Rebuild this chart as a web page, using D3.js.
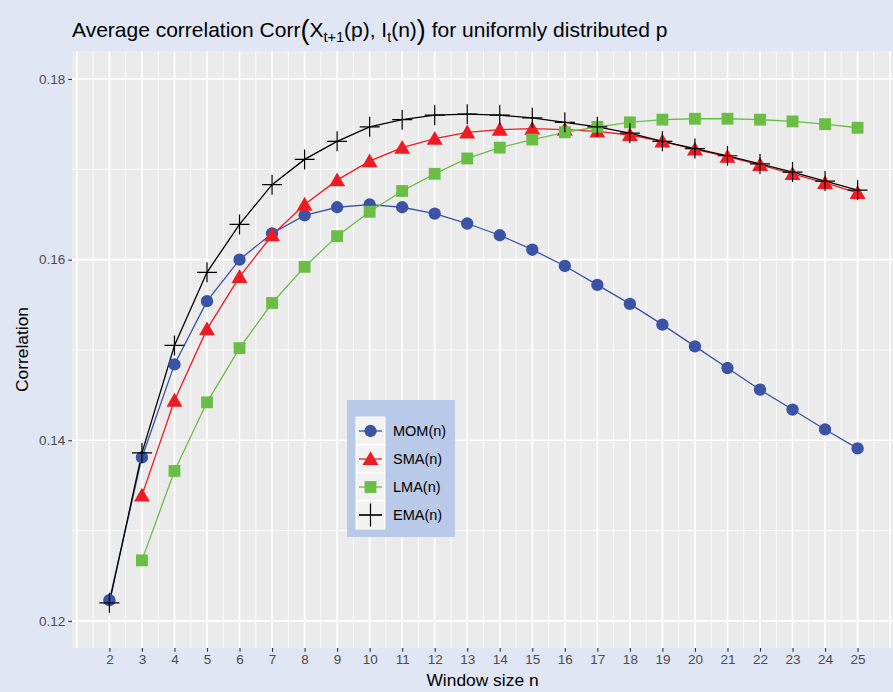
<!DOCTYPE html>
<html>
<head>
<meta charset="utf-8">
<script src="https://d3js.org/d3.v7.min.js"></script>
<style>
  body { margin: 0; background: #E0E6F3; }
  text { font-family: "Liberation Sans", Arial, Helvetica, sans-serif; }
</style>
</head>
<body>
<svg></svg>
<script>
// ====== data ====== //
const windowSizes = d3.range(2, 26);          // n = 2..25

const momValues = [0.1223, 0.1381, 0.1484, 0.1554, 0.1600, 0.1629, 0.1649, 0.1658,
  0.1661, 0.1658, 0.1651, 0.1640, 0.1627, 0.1611, 0.1593, 0.1572, 0.1551, 0.1528,
  0.1504, 0.1480, 0.1456, 0.1434, 0.1412, 0.1391];

// SMA and LMA start at n = 3
const smaValues = [null, 0.1339, 0.1444, 0.1523, 0.1581, 0.1627, 0.1661, 0.1688,
  0.1709, 0.1724, 0.1734, 0.1741, 0.1744, 0.1745, 0.1744, 0.1742, 0.1738, 0.1731,
  0.1722, 0.1714, 0.1705, 0.1695, 0.1685, 0.1674];

const lmaValues = [null, 0.1267, 0.1366, 0.1442, 0.1502, 0.1552, 0.1592, 0.1626,
  0.1653, 0.1676, 0.1695, 0.1712, 0.1724, 0.1733, 0.1741, 0.1747, 0.1752, 0.1755,
  0.1756, 0.1756, 0.1755, 0.1753, 0.1750, 0.1746];

const emaValues = [0.1220, 0.1386, 0.1505, 0.1586, 0.1639, 0.1683, 0.1711, 0.1731,
  0.1747, 0.1755, 0.1760, 0.1761, 0.1760, 0.1757, 0.1752, 0.1747, 0.1740, 0.1731,
  0.1723, 0.1715, 0.1706, 0.1697, 0.1687, 0.1677];

const seriesNames = ["MOM(n)", "SMA(n)", "LMA(n)", "EMA(n)"];
const seriesColors = ["#3A53A4", "#ED1C24", "#6ABD45", "#000000"];
const seriesShapes = ["circle", "triangle", "square", "plus"];

const yTicks = [0.12, 0.14, 0.16, 0.18];
const yMinor = [0.13, 0.15, 0.17];
const xTicks = d3.range(2, 26);

// ====== layout ====== //
const width = 893, height = 692;
const panel = { left: 72, top: 51, right: 895, bottom: 648 };

const svg = d3.select("svg").attr("width", width).attr("height", height);

svg.append("rect").attr("width", width).attr("height", height).attr("fill", "#E0E6F3");

const x = d3.scaleLinear().domain([0.85, 26.15]).range([panel.left, panel.right]);
const y = d3.scaleLinear().domain([0.117, 0.1831]).range([panel.bottom, panel.top]);

// panel + grid
svg.append("rect")
  .attr("x", panel.left).attr("y", panel.top)
  .attr("width", panel.right - panel.left).attr("height", panel.bottom - panel.top)
  .attr("fill", "#EBEBEB");

const grid = svg.append("g");
grid.selectAll(".ymin").data(yMinor).enter().append("line")
  .attr("x1", panel.left).attr("x2", panel.right)
  .attr("y1", d => y(d)).attr("y2", d => y(d))
  .attr("stroke", "#fff").attr("stroke-width", 0.8);
grid.selectAll(".xmin").data(d3.range(1.5, 26.5, 1)).enter().append("line")
  .attr("y1", panel.top).attr("y2", panel.bottom)
  .attr("x1", d => x(d)).attr("x2", d => x(d))
  .attr("stroke", "#fff").attr("stroke-width", 0.8);
grid.selectAll(".ymaj").data(yTicks).enter().append("line")
  .attr("x1", panel.left).attr("x2", panel.right)
  .attr("y1", d => y(d)).attr("y2", d => y(d))
  .attr("stroke", "#fff").attr("stroke-width", 1.6);
grid.selectAll(".xmaj").data(d3.range(1, 27)).enter().append("line")
  .attr("y1", panel.top).attr("y2", panel.bottom)
  .attr("x1", d => x(d)).attr("x2", d => x(d))
  .attr("stroke", "#fff").attr("stroke-width", 1.6);

// axes
const xAxis = svg.append("g")
  .attr("transform", `translate(0,${panel.bottom})`)
  .call(d3.axisBottom(x).tickValues(xTicks).tickFormat(d3.format("d")).tickSize(3.7).tickPadding(3));
const yAxis = svg.append("g")
  .attr("transform", `translate(${panel.left},0)`)
  .call(d3.axisLeft(y).tickValues(yTicks).tickFormat(d3.format(".2f")).tickSize(3.7).tickPadding(3));

[xAxis, yAxis].forEach(a => {
  a.select(".domain").remove();
  a.selectAll(".tick line").attr("stroke", "#333").attr("stroke-width", 1.1);
  a.selectAll(".tick text").attr("fill", "#4D4D4D").style("font-size", "13.5px")
    .style("font-family", "Liberation Sans, Arial, sans-serif");
});

// axis titles
svg.append("text")
  .attr("x", (panel.left + 893) / 2).attr("y", 686)
  .attr("text-anchor", "middle").style("font-size", "17.4px")
  .text("Window size n");

svg.append("text")
  .attr("transform", `translate(28,${(panel.top + panel.bottom) / 2}) rotate(-90)`)
  .attr("text-anchor", "middle").style("font-size", "17.4px")
  .text("Correlation");

// title with plotmath-like subscripts
const title = svg.append("text").attr("x", panel.left).attr("y", 37).style("font-size", "21px");
title.append("tspan").text("Average correlation Corr");
title.append("tspan").style("font-size", "27px").attr("dy", 2).text("(");
title.append("tspan").attr("dy", -2).text("X");
title.append("tspan").style("font-size", "14.5px").attr("dy", 5).text("t+1");
title.append("tspan").attr("dy", -5).text("(p), I");
title.append("tspan").style("font-size", "14.5px").attr("dy", 5).text("t");
title.append("tspan").attr("dy", -5).text("(n)");
title.append("tspan").style("font-size", "27px").attr("dy", 2).text(")");
title.append("tspan").attr("dy", -2).text(" for uniformly distributed p");

// ====== series ====== //
const allValues = [momValues, smaValues, lmaValues, emaValues];
const series = seriesNames.map((name, i) => ({
  name: name,
  color: seriesColors[i],
  shape: seriesShapes[i],
  points: windowSizes.map((n, j) => ({ n: n, v: allValues[i][j] })).filter(p => p.v !== null)
}));

const line = d3.line().x(d => x(d.n)).y(d => y(d.v));

svg.append("g").selectAll("path").data(series).enter().append("path")
  .attr("d", d => line(d.points))
  .attr("fill", "none")
  .attr("stroke", d => d.color)
  .attr("stroke-width", 1.3);

const symbolType = {
  circle: d3.symbolCircle,
  triangle: d3.symbolTriangle,
  square: d3.symbolSquare
};

function drawMarker(g, shape, color, scale) {
  if (shape === "plus") {
    const h = 10 * scale;
    g.append("path")
      .attr("d", `M${-h},0H${h}M0,${-h}V${h}`)
      .attr("stroke", color).attr("stroke-width", 1.2).attr("fill", "none");
  } else {
    const size = { circle: 120, triangle: 110, square: 140 }[shape] * scale * scale;
    g.append("path")
      .attr("d", d3.symbol().type(symbolType[shape]).size(size)())
      .attr("fill", color)
      .attr("transform", shape === "triangle" ? "translate(0,1.5)" : null);
  }
}

series.forEach(s => {
  const g = svg.append("g");
  s.points.forEach(p => {
    const m = g.append("g").attr("transform", `translate(${x(p.n)},${y(p.v)})`);
    drawMarker(m, s.shape, s.color, 1);
  });
});

// ====== legend ====== //
const legend = svg.append("g").attr("transform", "translate(347,400)");
legend.append("rect").attr("width", 108).attr("height", 137).attr("fill", "#B9C9E8");

series.forEach((s, i) => {
  const ky = 17 + i * 28;
  legend.append("rect")
    .attr("x", 9).attr("y", ky).attr("width", 29).attr("height", 28)
    .attr("fill", "#F2F2F2").attr("stroke", "#fff").attr("stroke-width", 1);
  legend.append("line")
    .attr("x1", 12).attr("x2", 35).attr("y1", ky + 14).attr("y2", ky + 14)
    .attr("stroke", s.color).attr("stroke-width", 1.3);
  const m = legend.append("g").attr("transform", `translate(23.5,${ky + 14})`);
  drawMarker(m, s.shape, s.color, s.shape === "plus" ? 1.15 : 1);
  legend.append("text")
    .attr("x", 46).attr("y", ky + 14).attr("dy", "0.35em")
    .style("font-size", "14.5px").text(s.name);
});
</script>
</body>
</html>
